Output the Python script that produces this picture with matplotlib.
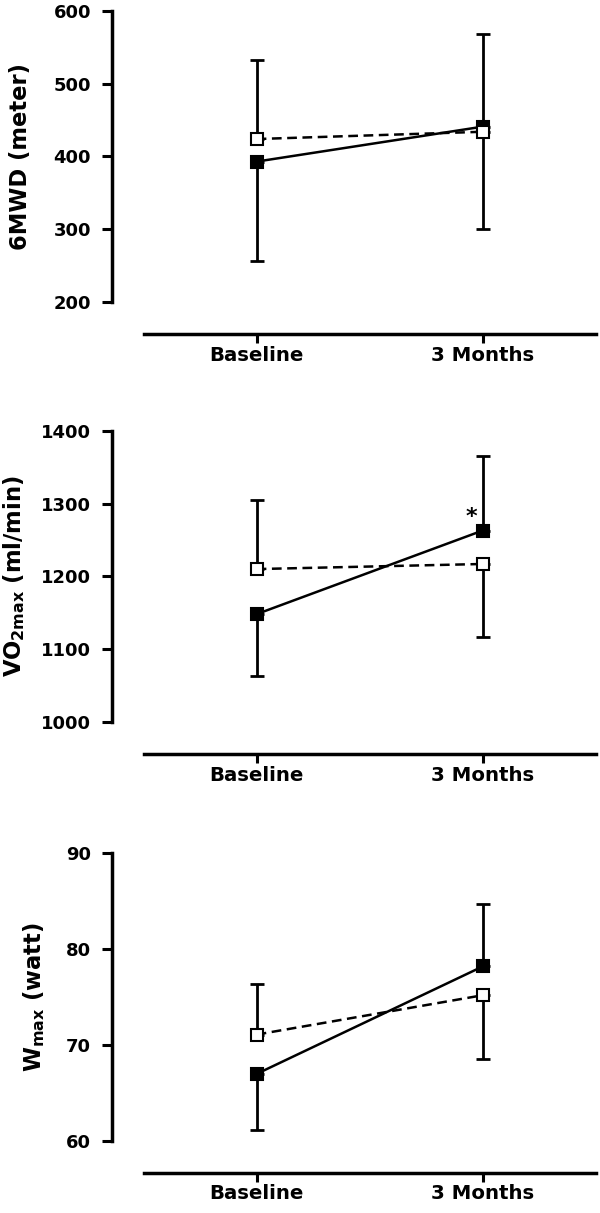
import matplotlib
matplotlib.use('Agg')
import matplotlib.pyplot as plt
import numpy as np

plt.rcParams['font.family'] = ['DejaVu Sans']
plt.rcParams['mathtext.fontset'] = 'dejavusans'
plt.rcParams['mathtext.default'] = 'bf'
plt.rcParams['lines.scale_dashes'] = False

# ---------------- data ----------------
timepoints = ['Baseline', '3 Months']

walk_filled = [393, 441]
walk_filled_sd = [137, 127]
walk_open = [424, 434]
walk_open_sd = [108, 133]
walk_ticks = [200, 300, 400, 500, 600]

vo2_filled = [1148, 1263]
vo2_filled_sd = [85, 102]
vo2_open = [1210, 1217]
vo2_open_sd = [95, 101]
vo2_ticks = [1000, 1100, 1200, 1300, 1400]

w_filled = [67.0, 78.2]
w_filled_sd = [5.85, 6.5]
w_open = [71.1, 75.2]
w_open_sd = [5.3, 6.65]
w_ticks = [60, 70, 80, 90]

# ---------------- layout ----------------
W, H = 600, 1213
fig = plt.figure(figsize=(W / 100, H / 100), dpi=100)
LEFT_PX = 112
XLIM = (-0.64, 1.51)
px_per_unit = 226.0
AX_W_PX = (XLIM[1] - XLIM[0]) * px_per_unit


def add_panel(top_px, bottom_px, ylim, yticks, ylabel, label_right_px,
              filled, filled_sd, opn, open_sd, star=False):
    ax = fig.add_axes([LEFT_PX / W, 1 - bottom_px / H, AX_W_PX / W,
                       (bottom_px - top_px) / H])
    x = np.arange(len(timepoints))
    f_lo = [s if f < o else 0 for f, o, s in zip(filled, opn, filled_sd)]
    f_hi = [s if f >= o else 0 for f, o, s in zip(filled, opn, filled_sd)]
    o_lo = [s if o <= f else 0 for f, o, s in zip(filled, opn, open_sd)]
    o_hi = [s if o > f else 0 for f, o, s in zip(filled, opn, open_sd)]
    ekw = dict(fmt='none', ecolor='black', elinewidth=2.0, capsize=4.7,
               capthick=2.0, zorder=2)
    ax.errorbar(x, filled, yerr=[f_lo, f_hi], **ekw)
    ax.errorbar(x, opn, yerr=[o_lo, o_hi], **ekw)
    ax.plot(x, filled, '-', color='black', lw=1.8, zorder=3)
    ax.plot(x, opn, '--', color='black', lw=1.8, dashes=(7, 4), zorder=3)
    ax.plot(x, filled, 's', ms=8.4, mfc='black', mec='black', mew=1.5, zorder=5)
    ax.plot(x, opn, 's', ms=8.4, mfc='white', mec='black', mew=1.5, zorder=5)

    ax.set_xlim(*XLIM)
    ax.set_ylim(*ylim)
    for s in ('top', 'right'):
        ax.spines[s].set_visible(False)
    ax.spines['left'].set_bounds(yticks[0], yticks[-1])
    ax.spines['bottom'].set_bounds(-0.5, 1.5)
    for s in ('left', 'bottom'):
        ax.spines[s].set_linewidth(2.5)
    ax.set_yticks(yticks)
    ax.set_xticks(x, timepoints)
    ax.tick_params(axis='y', length=7, width=2.2, pad=8, labelsize=13)
    ax.tick_params(axis='x', length=6.5, width=2.2, pad=2, labelsize=14.2)
    for lab in ax.get_yticklabels() + ax.get_xticklabels():
        lab.set_fontweight('bold')
    ax.set_ylabel(ylabel, fontsize=16.3, fontweight='bold')
    yc = (np.mean([yticks[0], yticks[-1]]) - ylim[0]) / (ylim[1] - ylim[0])
    ax.yaxis.set_label_coords((label_right_px - LEFT_PX) / AX_W_PX, yc)
    if star:
        ax.annotate('*', xy=(x[1], filled[1]), xytext=(-8, 10),
                    textcoords='offset points', ha='center', va='center',
                    fontsize=16, fontweight='bold')
    return ax


add_panel(11, 334, (156.0, 600), walk_ticks, '6MWD (meter)', 32,
          walk_filled, walk_filled_sd, walk_open, walk_open_sd)
add_panel(431, 754.3, (955.1, 1400), vo2_ticks,
          r'VO$_{2max}$ (ml/min)', 27,
          vo2_filled, vo2_filled_sd, vo2_open, vo2_open_sd, star=True)
add_panel(853.3, 1172.5, (56.72, 90), w_ticks, r'W$_{max}$ (watt)', 47,
          w_filled, w_filled_sd, w_open, w_open_sd)

fig.savefig('out.png', dpi=100)
